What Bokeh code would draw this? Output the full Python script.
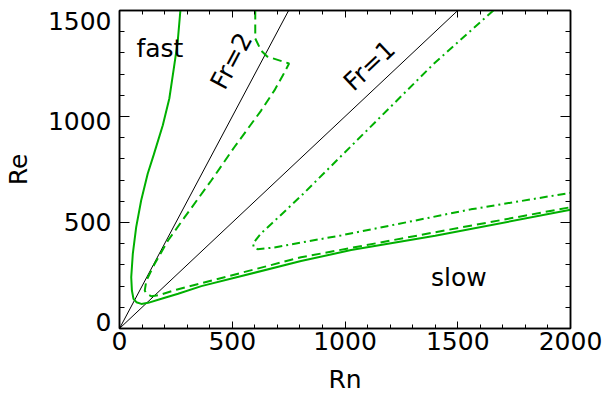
import math
from bokeh.plotting import figure
from bokeh.models import LinearAxis, FixedTicker, Range1d, Label, CustomJSTickFormatter
from bokeh.embed import file_html
from bokeh.resources import INLINE

# ---- data ----
solid_rn = [270, 258, 243, 221, 192, 152, 125, 96, 74, 59, 52, 55, 62, 75, 97, 127, 186, 260, 363, 805, 1027, 1400, 2000]
solid_re = [1500, 1352, 1242, 1085, 959, 820, 730, 604, 478, 352, 242, 179, 140, 124, 116, 121, 140, 164, 200, 318, 370, 437, 560]

dash_rn = [602, 602, 628, 655, 752, 724, 687, 628, 509, 407, 289, 215, 156, 119, 112, 119, 142, 177, 252, 805, 1400, 2000]
dash_re = [1500, 1368, 1311, 1283, 1250, 1193, 1123, 1028, 855, 698, 525, 415, 305, 226, 179, 164, 152, 158, 183, 336, 454, 572]

dd_rn = [1658, 1395, 1027, 805, 680, 628, 610, 592, 596, 612, 687, 835, 982, 1558, 2000]
dd_re = [1500, 1250, 860, 625, 500, 449, 425, 400, 382, 374, 382, 411, 439, 562, 640]

fr1_rn = [0, 1500]
fr1_re = [0, 1500]
fr2_rn = [0, 750]
fr2_re = [0, 1500]

x_ticks = [0, 500, 1000, 1500, 2000]
y_ticks = [0, 500, 1000, 1500]
x_minor = list(range(0, 2001, 100))
y_minor = list(range(0, 1501, 100))

FONT = "DejaVu Sans"
FS = "25px"
GREEN = "#00b000"

XMIN, XMAX, YMIN, YMAX = 0, 2000, 0, 1500
FRAME_W, FRAME_H = 452, 318

p = figure(width=604, height=397,
           x_range=Range1d(XMIN, XMAX), y_range=Range1d(YMIN, YMAX),
           output_backend="svg", toolbar_location=None,
           x_axis_location=None, y_axis_location=None,
           min_border_left=118, min_border_right=34,
           min_border_top=10, min_border_bottom=69)
p.extra_y_ranges = {"lbl": Range1d(-31, 1550)}
p.grid.visible = False
p.outline_line_color = "black"
p.outline_line_width = 1.5
p.background_fill_color = "white"
p.border_fill_color = "white"

blank = CustomJSTickFormatter(code="return ''")

def tick_axis(ticks, minor, tin, mtin, **kw):
    return LinearAxis(ticker=FixedTicker(ticks=ticks, minor_ticks=minor),
                      axis_line_color="black", axis_line_width=1.5,
                      major_tick_in=tin, major_tick_out=0,
                      minor_tick_in=mtin, minor_tick_out=0,
                      major_tick_line_color="black", minor_tick_line_color="black",
                      major_tick_line_width=1, minor_tick_line_width=1, **kw)

bottom = tick_axis(x_ticks, x_minor, 7, 4,
                   major_label_text_font=FONT, major_label_text_font_size=FS,
                   major_label_text_color="black", major_label_standoff=3,
                   axis_label="Rn", axis_label_text_font=FONT,
                   axis_label_text_font_size=FS, axis_label_text_font_style="normal",
                   axis_label_text_color="black", axis_label_standoff=12)
top = tick_axis(x_ticks, x_minor, 7, 4, formatter=blank, major_label_standoff=0)
left = tick_axis(y_ticks, y_minor, 10, 5, formatter=blank, major_label_standoff=0)
right = tick_axis(y_ticks, y_minor, 10, 5, formatter=blank, major_label_standoff=0)
left_lbl = LinearAxis(y_range_name="lbl", ticker=FixedTicker(ticks=y_ticks, minor_ticks=[]),
                      axis_line_color=None, major_tick_line_color=None, minor_tick_line_color=None,
                      major_tick_in=0, major_tick_out=0, minor_tick_in=0, minor_tick_out=0,
                      major_label_text_font=FONT, major_label_text_font_size=FS,
                      major_label_text_color="black", major_label_standoff=8,
                      axis_label="Re", axis_label_text_font=FONT,
                      axis_label_text_font_size=FS, axis_label_text_font_style="normal",
                      axis_label_text_color="black", axis_label_standoff=12)

p.add_layout(bottom, "below")
p.add_layout(top, "above")
p.add_layout(left, "left")
p.add_layout(left_lbl, "left")
p.add_layout(right, "right")

# Froude lines
p.line(fr1_rn, fr1_re, line_color="black", line_width=1)
p.line(fr2_rn, fr2_re, line_color="black", line_width=1)

# curves
p.line(solid_rn, solid_re, line_color=GREEN, line_width=2)
p.line(dash_rn, dash_re, line_color=GREEN, line_width=2, line_dash="9 5")
p.line(dd_rn, dd_re, line_color=GREEN, line_width=2, line_dash="8 4 2 4")

# screen scale of the frame
sx = FRAME_W / (XMAX - XMIN)
sy = FRAME_H / (YMAX - YMIN)
ang1 = math.atan(1.0 * sy / sx)
ang2 = math.atan(2.0 * sy / sx)

common = dict(text_font=FONT, text_font_size=FS, text_color="black")
p.add_layout(Label(x=75, y=1323, text="fast", text_align="left", text_baseline="alphabetic", **common))
p.add_layout(Label(x=1381, y=240, text="slow", text_align="left", text_baseline="alphabetic", **common))
p.add_layout(Label(x=496, y=1262, text="Fr=2", angle=ang2, text_align="center", text_baseline="middle", **common))
p.add_layout(Label(x=1108, y=1240, text="Fr=1", angle=ang1, text_align="center", text_baseline="middle", **common))

open("out.html", "w").write(file_html(p, INLINE))
